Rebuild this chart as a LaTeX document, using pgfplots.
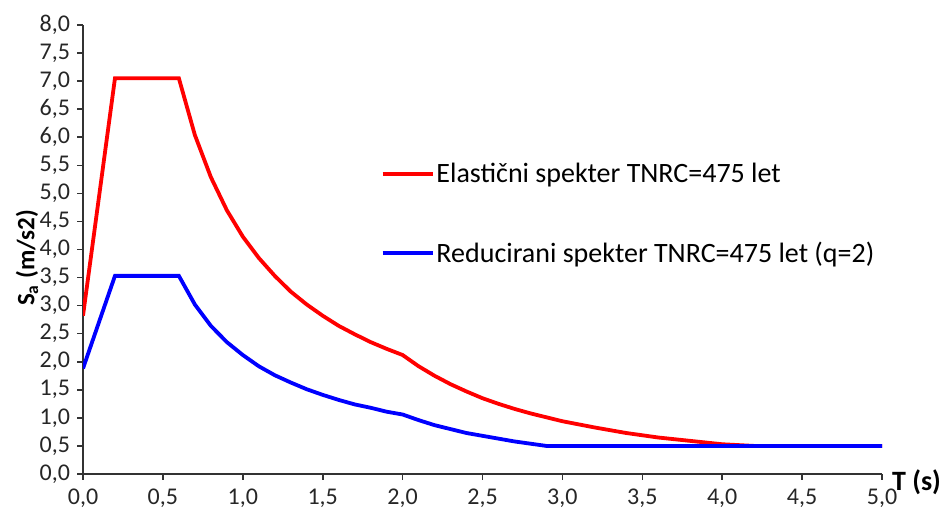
\documentclass[border=0pt]{standalone}
\usepackage{pgfplots}
\pgfplotsset{compat=1.18}
\usepackage{fontspec}
\setmainfont{Carlito}

\begin{document}
\begin{tikzpicture}
% fix the page to the reference margins (1px = 0.5pt)
\useasboundingbox (-41.5pt,-19pt) rectangle (428.5pt,237pt);
\begin{axis}[
    at={(0,0)}, anchor=south west,
    scale only axis,
    width=399.5pt, height=224.5pt,
    xmin=0, xmax=5, ymin=0, ymax=8,
    xtick={0,0.5,...,5}, ytick={0,0.5,...,8},
    axis lines*=left,
    axis line style={black!80, line width=0.8pt},
    tick style={black!80, line width=0.8pt},
    tick align=outside,
    major tick length=3pt,
    tick label style={font=\fontsize{12}{14}\selectfont, text=black!85},
    xticklabel style={yshift=-1pt},
    /pgf/number format/.cd, use comma, fixed, fixed zerofill, precision=1,
        assume math mode=true,
    /pgfplots/.cd,
    xlabel={\textbf{T (s)}},
    xlabel style={at={(axis description cs:1,0)}, anchor=west, font=\fontsize{14}{16}\selectfont, xshift=1.5pt, yshift=-4pt},
    ylabel={\textbf{S\textsubscript{a} (m/s2)}},
    ylabel style={at={(axis description cs:-0.07,0.481)}, anchor=center, font=\fontsize{12.5}{14}\selectfont},
    legend style={draw=none, fill=none, at={(axis cs:1.86,4.63)}, anchor=west,
        font=\fontsize{14}{16}\selectfont, row sep=24pt, inner sep=0pt,
        nodes={inner xsep=1pt}},
    legend cell align=left,
    legend image code/.code={\draw[#1] (0pt,0pt) -- (25pt,0pt);},
]
\addplot[red, line width=1.9pt] coordinates {
    (0,2.82) (0.2,7.05) (0.6,7.05) (0.7,6.04) (0.8,5.29) (0.9,4.70) (1.0,4.23)
    (1.1,3.85) (1.2,3.53) (1.3,3.25) (1.4,3.02) (1.5,2.82) (1.6,2.64) (1.7,2.49)
    (1.8,2.35) (1.9,2.23) (2.0,2.12) (2.1,1.92) (2.2,1.75) (2.3,1.60) (2.4,1.47)
    (2.5,1.35) (2.6,1.25) (2.7,1.16) (2.8,1.08) (2.9,1.01) (3.0,0.94) (3.2,0.83)
    (3.4,0.73) (3.6,0.65) (3.8,0.59) (4.0,0.53) (4.2,0.50) (5.0,0.50)
};
\addlegendentry{Elastični spekter TNRC=475 let}
\addplot[blue, line width=1.9pt] coordinates {
    (0,1.88) (0.2,3.53) (0.6,3.53) (0.7,3.02) (0.8,2.64) (0.9,2.35) (1.0,2.12)
    (1.1,1.92) (1.2,1.76) (1.3,1.63) (1.4,1.51) (1.5,1.41) (1.6,1.32) (1.7,1.24)
    (1.8,1.18) (1.9,1.11) (2.0,1.06) (2.1,0.96) (2.2,0.87) (2.3,0.80) (2.4,0.73)
    (2.5,0.68) (2.6,0.63) (2.7,0.58) (2.8,0.54) (2.9,0.50) (3.0,0.50) (5.0,0.50)
};
\addlegendentry{Reducirani spekter TNRC=475 let (q=2)}
\end{axis}
\end{tikzpicture}
\end{document}
